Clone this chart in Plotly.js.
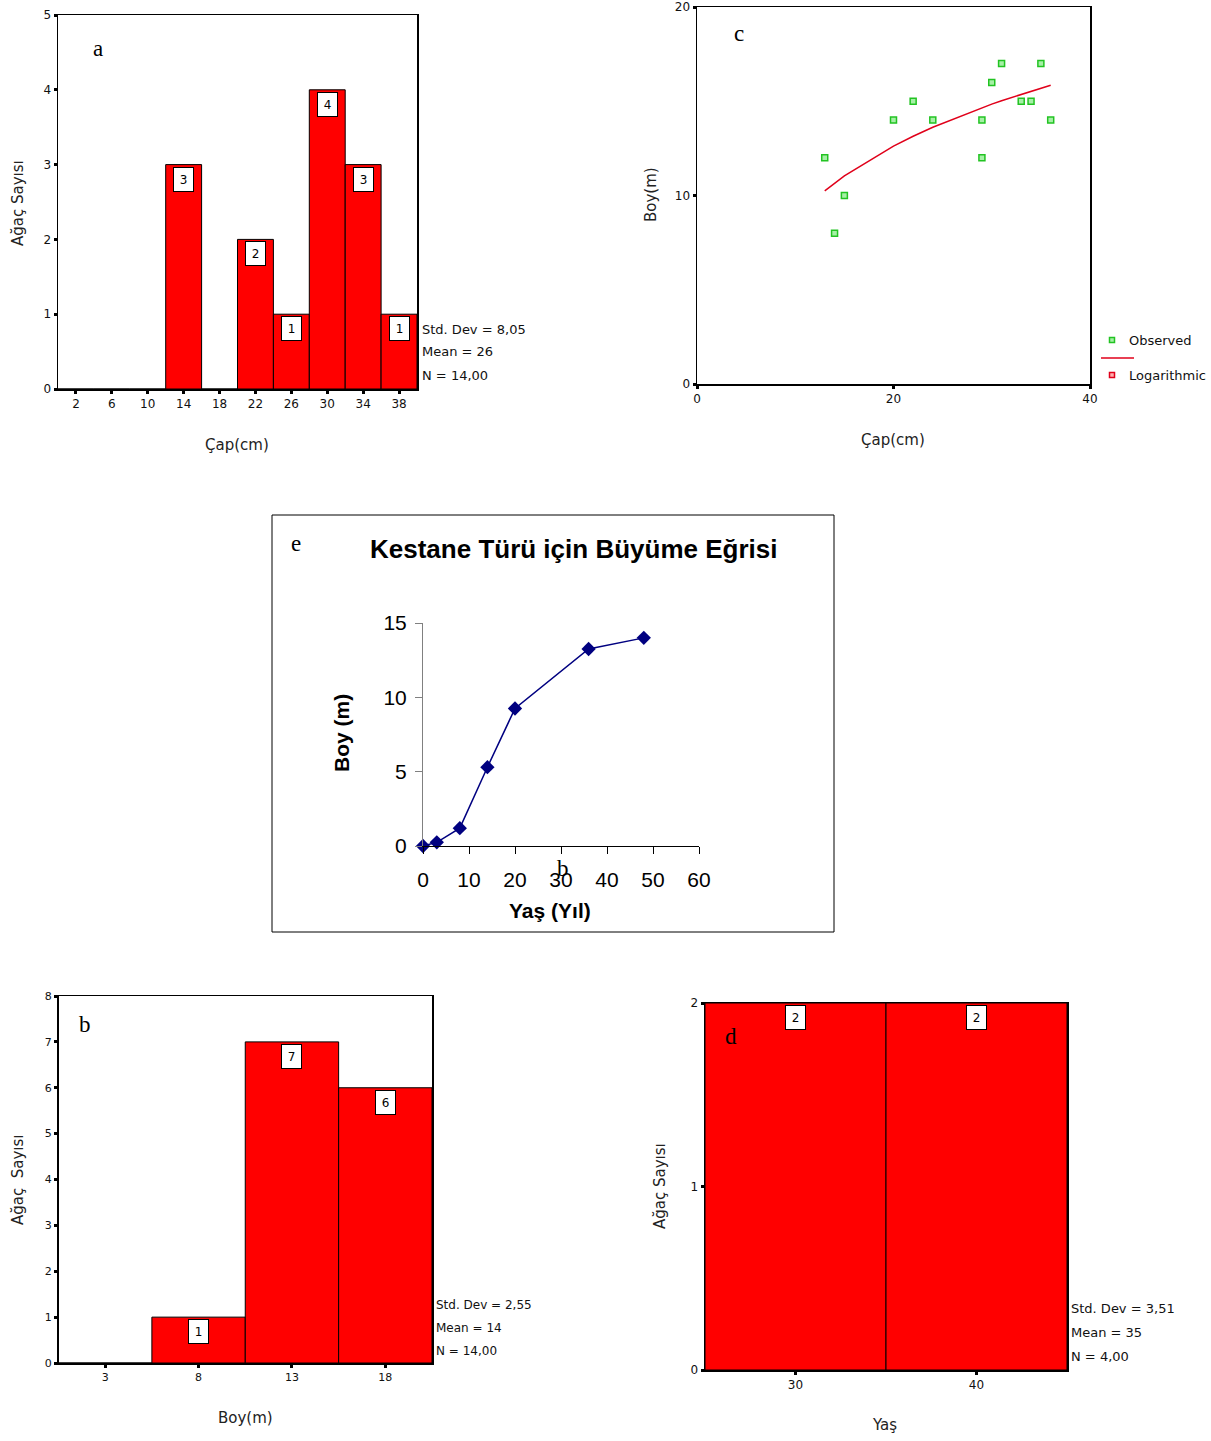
<!DOCTYPE html>
<html>
<head>
<meta charset="utf-8">
<script src="https://cdn.plot.ly/plotly-3.0.1.min.js"></script>
<style>
  html, body { margin: 0; padding: 0; background: #ffffff; }
  #fig { width: 1211px; height: 1441px; }
</style>
</head>
<body>
<div id="fig"></div>
<script>
// Panel a: diameter histogram (bin centres, counts)
const capBins = [2, 6, 10, 14, 18, 22, 26, 30, 34, 38];
const capCounts = [0, 0, 0, 3, 0, 2, 1, 4, 3, 1];
const capStats = ['Std. Dev = 8,05', 'Mean = 26', 'N = 14,00'];

// Panel b: height histogram
const boyBins = [3, 8, 13, 18];
const boyCounts = [0, 1, 7, 6];
const boyStats = ['Std. Dev = 2,55', 'Mean = 14', 'N = 14,00'];

// Panel c: observed diameter / height pairs
const capObs = [13, 14, 15, 20, 22, 24, 29, 29, 30, 31, 33, 34, 35, 36];
const boyObs = [12, 8, 10, 14, 15, 14, 14, 12, 16, 17, 15, 15, 17, 14];

// Panel d: age histogram
const yasBins = [30, 40];
const yasCounts = [2, 2];
const yasStats = ['Std. Dev = 3,51', 'Mean = 35', 'N = 4,00'];

// Panel e: growth curve
const yasYil = [0, 3, 8, 14, 20, 36, 48];
const boyBuyume = [0, 0.25, 1.2, 5.3, 9.25, 13.25, 14];

const W = 1211, H = 1441;
const px = v => v / W;
const py = v => 1 - v / H;

const RED = '#ff0000';
const SANS = 'DejaVu Sans, Liberation Sans, sans-serif';
const ARIAL = 'Liberation Sans, Arial, sans-serif';
const SERIF = 'Liberation Serif, Times New Roman, serif';

// logarithmic fit y = a + b ln x by least squares
const lx = capObs.map(Math.log);
const mx = lx.reduce((s, v) => s + v, 0) / lx.length;
const my = boyObs.reduce((s, v) => s + v, 0) / boyObs.length;
let sxy = 0, sxx = 0;
lx.forEach((v, i) => { sxy += (v - mx) * (boyObs[i] - my); sxx += (v - mx) * (v - mx); });
const fitB = sxy / sxx, fitA = my - fitB * mx;
const fitX = Array.from(new Set(capObs)).sort((p, q) => p - q);
const fitY = fitX.map(v => fitA + fitB * Math.log(v));

function histTrace(xs, ys, width, xa, ya) {
  return {
    type: 'bar', x: xs, y: ys, width: width, xaxis: xa, yaxis: ya,
    marker: { color: RED, line: { color: '#000000', width: 1 } },
    hoverinfo: 'skip', showlegend: false
  };
}

const traces = [
  histTrace(capBins, capCounts, 4, 'x', 'y'),
  {
    type: 'scatter', mode: 'markers', x: capObs, y: boyObs, xaxis: 'x2', yaxis: 'y2',
    marker: { symbol: 'square', size: 6, color: '#a6f0a6', line: { color: '#22c322', width: 1.5 } },
    showlegend: false, hoverinfo: 'skip'
  },
  {
    type: 'scatter', mode: 'lines', x: fitX, y: fitY, xaxis: 'x2', yaxis: 'y2',
    line: { color: '#e0001a', width: 1.5 }, showlegend: false, hoverinfo: 'skip'
  },
  {
    type: 'scatter', mode: 'lines+markers', x: yasYil, y: boyBuyume, xaxis: 'x3', yaxis: 'y3',
    line: { color: '#000080', width: 1.5 },
    marker: { symbol: 'diamond', size: 11, color: '#000080' },
    cliponaxis: false, showlegend: false, hoverinfo: 'skip'
  },
  histTrace(boyBins, boyCounts, 5, 'x4', 'y4'),
  histTrace(yasBins, yasCounts, 10, 'x5', 'y5')
];

function spssAxis(domain, range, ticks, fs) {
  return {
    domain: domain, range: range, tickvals: ticks, ticktext: ticks.map(String),
    showgrid: false, zeroline: false, showline: true, linecolor: '#000000', linewidth: 1.5,
    mirror: true, ticks: 'outside', ticklen: 3, tickwidth: 3, tickcolor: '#000000',
    tickfont: { family: SANS, size: fs, color: '#111111' }, fixedrange: true
  };
}

const layout = {
  width: W, height: H, margin: { l: 0, r: 0, t: 0, b: 0 },
  paper_bgcolor: '#ffffff', plot_bgcolor: 'rgba(0,0,0,0)',
  showlegend: false, bargap: 0,
  xaxis: Object.assign(spssAxis([px(58), px(417)], [0, 40], capBins, 12), { anchor: 'y' }),
  yaxis: Object.assign(spssAxis([py(389), py(15)], [0, 5], [0, 1, 2, 3, 4, 5], 12), { anchor: 'x' }),
  xaxis2: Object.assign(spssAxis([px(697), px(1090)], [0, 40], [0, 20, 40], 12), { anchor: 'y2' }),
  yaxis2: Object.assign(spssAxis([py(384), py(7)], [0, 20], [0, 10, 20], 12), { anchor: 'x2' }),
  xaxis3: {
    domain: [px(423), px(699)], range: [0, 60], dtick: 10, anchor: 'y3',
    showgrid: false, zeroline: false, showline: true, linecolor: '#000000', linewidth: 1,
    ticks: 'outside', ticklen: 7, tickwidth: 1, tickcolor: '#000000', ticklabelstandoff: 8,
    tickfont: { family: ARIAL, size: 21, color: '#000000' }, fixedrange: true
  },
  yaxis3: {
    domain: [py(846), py(623)], range: [0, 15], dtick: 5, anchor: 'x3',
    showgrid: false, zeroline: false, showline: true, linecolor: '#808080', linewidth: 1,
    ticks: 'outside', ticklen: 7, tickwidth: 1, tickcolor: '#808080', ticklabelstandoff: 4,
    tickfont: { family: ARIAL, size: 21, color: '#000000' }, fixedrange: true
  },
  xaxis4: Object.assign(spssAxis([px(58.5), px(432)], [0.5, 20.5], boyBins, 11), { anchor: 'y4' }),
  yaxis4: Object.assign(spssAxis([py(1363), py(996)], [0, 8], [0, 1, 2, 3, 4, 5, 6, 7, 8], 11), { anchor: 'x4' }),
  xaxis5: Object.assign(spssAxis([px(705), px(1067)], [25, 45], yasBins, 12), { anchor: 'y5' }),
  yaxis5: Object.assign(spssAxis([py(1370), py(1003)], [0, 2], [0, 1, 2], 12), { anchor: 'x5' }),
  shapes: [],
  annotations: []
};

const ann = layout.annotations;
function text(x, y, t, opts) {
  ann.push(Object.assign({
    xref: 'paper', yref: 'paper', x: px(x), y: py(y), text: t, showarrow: false,
    xanchor: 'center', yanchor: 'middle',
    font: { family: SANS, size: 14, color: '#1a1a1a' }
  }, opts || {}));
}

// value boxes on top of histogram bars
function valueBoxes(xs, ys, xa, ya, fs) {
  xs.forEach((v, i) => {
    if (ys[i] <= 0) return;
    ann.push({
      xref: xa, yref: ya, x: v, y: ys[i], text: String(ys[i]), showarrow: false,
      xanchor: 'center', yanchor: 'top', yshift: -2,
      bgcolor: '#ffffff', bordercolor: '#000000', borderwidth: 1, borderpad: 3,
      width: 13, height: 17,
      font: { family: SANS, size: fs, color: '#000000' }
    });
  });
}
valueBoxes(capBins, capCounts, 'x', 'y', 12);
valueBoxes(boyBins, boyCounts, 'x4', 'y4', 12);
valueBoxes(yasBins, yasCounts, 'x5', 'y5', 12);

// statistics blocks
function statBlock(x, ys, lines, fs) {
  lines.forEach((t, i) => text(x, ys[i], t, { xanchor: 'left', font: { family: SANS, size: fs, color: '#111111' } }));
}
statBlock(420, [329, 352, 375], capStats, 13);
statBlock(434, [1305, 1328, 1351], boyStats, 12);
statBlock(1069, [1308, 1332, 1356], yasStats, 13);

// axis titles
const titleFont = { family: SANS, size: 15, color: '#222222' };
text(18, 203, 'Ağaç Sayısı', { textangle: -90, font: titleFont });
text(237, 445, 'Çap(cm)', { font: titleFont });
text(651, 195, 'Boy(m)', { textangle: -90, font: titleFont });
text(893, 440, 'Çap(cm)', { font: titleFont });
text(18, 1180, 'Ağaç  Sayısı', { textangle: -90, font: titleFont });
text(245, 1418, 'Boy(m)', { font: titleFont });
text(660, 1186, 'Ağaç Sayısı', { textangle: -90, font: titleFont });
text(884, 1425, 'Yaş', { font: titleFont });

// panel letters
const letterFont = { family: SERIF, size: 23, color: '#000000' };
text(98, 49, 'a', { font: letterFont });
text(739, 33, 'c', { font: letterFont });
text(296, 543, 'e', { font: letterFont });
text(563, 868, 'b', { font: letterFont });
text(85, 1024, 'b', { font: letterFont });
text(731, 1036, 'd', { font: letterFont });

// panel e frame, title and axis titles
layout.shapes.push({
  type: 'rect', xref: 'paper', yref: 'paper',
  x0: px(272), x1: px(834), y0: py(932), y1: py(515),
  line: { color: '#000000', width: 1 }, fillcolor: 'rgba(0,0,0,0)'
});
text(573, 549, '<b>Kestane Türü için Büyüme Eğrisi</b>', { font: { family: ARIAL, size: 26, color: '#000000' } });
text(341, 733, '<b>Boy (m)</b>', { textangle: -90, font: { family: ARIAL, size: 21, color: '#000000' } });
text(550, 910, '<b>Yaş (Yıl)</b>', { font: { family: ARIAL, size: 21, color: '#000000' } });

// panel c legend
layout.shapes.push(
  { type: 'rect', xref: 'paper', yref: 'paper', x0: px(1109.5), x1: px(1114.5), y0: py(342.5), y1: py(337.5),
    line: { color: '#22c322', width: 1.5 }, fillcolor: '#a6f0a6' },
  { type: 'line', xref: 'paper', yref: 'paper', x0: px(1101), x1: px(1134), y0: py(358), y1: py(358),
    line: { color: '#e0001a', width: 1.5 } },
  { type: 'rect', xref: 'paper', yref: 'paper', x0: px(1109.5), x1: px(1114.5), y0: py(377.5), y1: py(372.5),
    line: { color: '#e0001a', width: 1.5 }, fillcolor: '#ffb0b0' }
);
text(1127, 340, 'Observed', { xanchor: 'left', font: { family: SANS, size: 13, color: '#111111' } });
text(1127, 375, 'Logarithmic', { xanchor: 'left', font: { family: SANS, size: 13, color: '#111111' } });

Plotly.newPlot('fig', traces, layout, { displayModeBar: false, staticPlot: true });
</script>
</body>
</html>
